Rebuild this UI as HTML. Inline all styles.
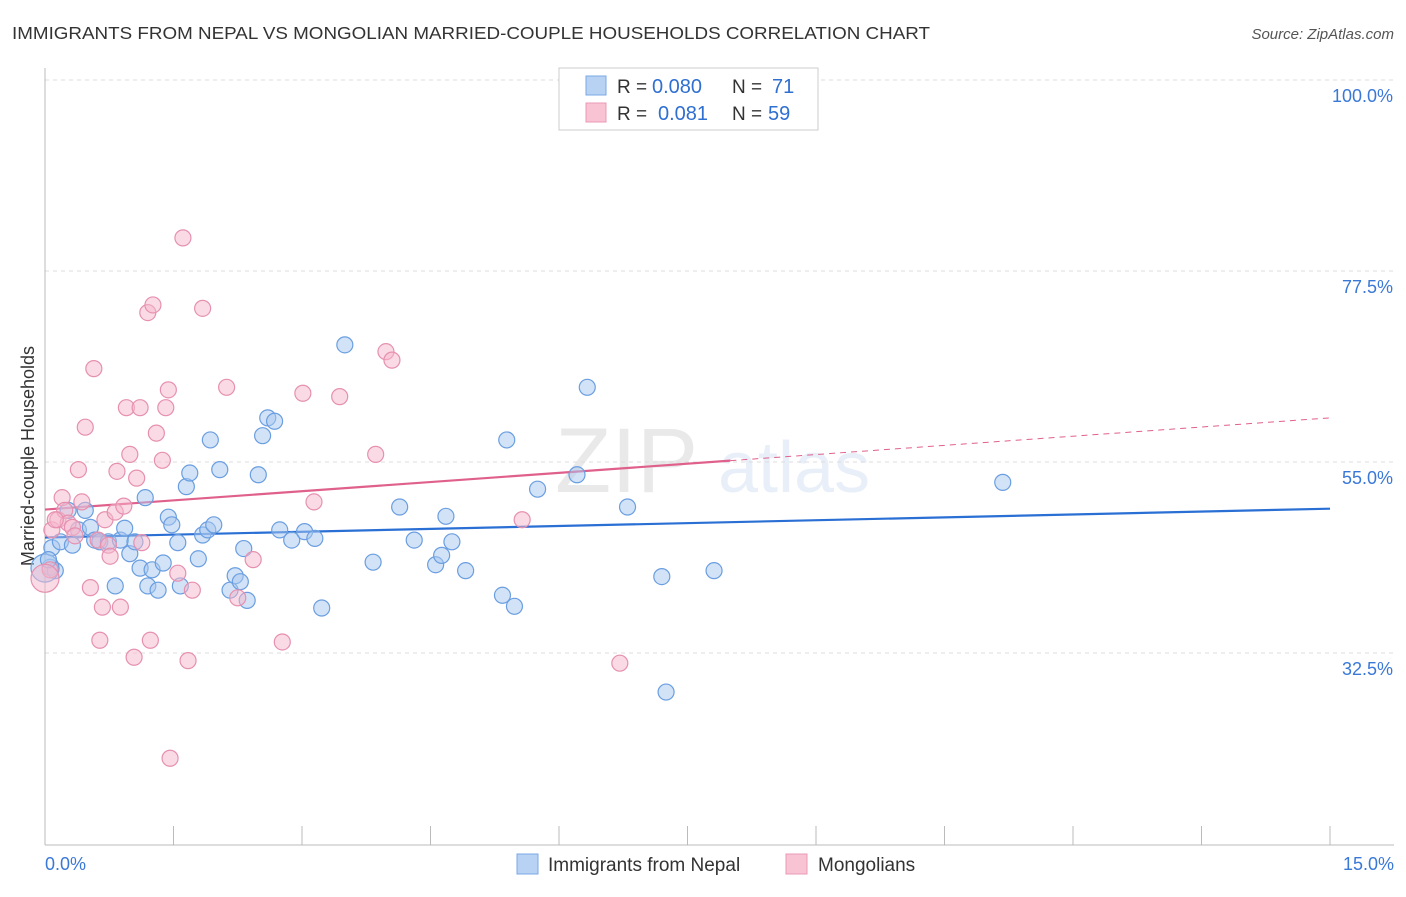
<!DOCTYPE html>
<html><head><meta charset="utf-8">
<style>
body{margin:0;background:#fff;font-family:"Liberation Sans",sans-serif;}
svg text{font-family:"Liberation Sans",sans-serif;}
</style></head>
<body>
<svg id="chart" width="1406" height="892" xmlns="http://www.w3.org/2000/svg">
<text x="12" y="39" font-size="17.5" fill="#333" textLength="918" lengthAdjust="spacingAndGlyphs">IMMIGRANTS FROM NEPAL VS MONGOLIAN MARRIED-COUPLE HOUSEHOLDS CORRELATION CHART</text>
<text x="1394" y="39" font-size="15" fill="#555" text-anchor="end" font-style="italic">Source: ZipAtlas.com</text>
<text transform="translate(34,456) rotate(-90)" font-size="18" fill="#333" text-anchor="middle">Married-couple Households</text>
<g opacity="0.12">
<text x="555" y="492" font-size="92" font-family="Liberation Serif" fill="#555">ZIP</text>
<text x="718" y="492" font-size="72" fill="#4a7fd0">atlas</text>
</g>
<g id="grid"></g>
<g id="ticks"></g>
<g id="lines"></g>
<g id="pts"></g>
<g>
<rect x="559" y="68" width="259" height="62" fill="#fff" stroke="#ccc"/>
<rect x="586" y="76" width="20" height="19" fill="#b8d2f4" stroke="#7aa8e4"/>
<rect x="586" y="103" width="20" height="19" fill="#f8c4d4" stroke="#eb98b4"/>
<text x="617" y="93" font-size="19" fill="#333">R =</text>
<text x="652" y="93" font-size="20" fill="#2f6fd0">0.080</text>
<text x="732" y="93" font-size="19" fill="#333">N =</text>
<text x="772" y="93" font-size="20" fill="#2f6fd0">71</text>
<text x="617" y="120" font-size="19" fill="#333">R =</text>
<text x="658" y="120" font-size="20" fill="#2f6fd0">0.081</text>
<text x="732" y="120" font-size="19" fill="#333">N =</text>
<text x="768" y="120" font-size="20" fill="#2f6fd0">59</text>
</g>
<g>
<rect x="517" y="854" width="21" height="20" fill="#b8d2f4" stroke="#7aa8e4"/>
<text x="548" y="871" font-size="19" fill="#333">Immigrants from Nepal</text>
<rect x="786" y="854" width="21" height="20" fill="#f8c4d4" stroke="#eb98b4"/>
<text x="818" y="871" font-size="19" fill="#333">Mongolians</text>
</g>
</svg>
<script>
const xTicks=[0,1.5,3,4.5,6,7.5,9,10.5,12,13.5,15];
const yTicks=[32.5,55,77.5,100];
const yTickLabels=["32.5%","55.0%","77.5%","100.0%"];
const nepalX=[0.06,0.12,0.08,0.18,0.27,0.32,0.39,0.47,0.53,0.58,0.64,0.74,0.82,0.88,0.93,0.99,1.05,1.11,1.17,1.20,1.25,1.32,1.38,1.44,1.48,1.55,1.58,1.65,1.69,1.79,1.84,1.90,1.93,1.97,2.04,2.16,2.22,2.28,2.32,2.36,2.49,2.54,2.60,2.68,2.74,2.88,3.03,3.15,3.23,3.50,3.83,4.14,4.31,4.56,4.63,4.68,4.75,4.91,5.34,5.39,5.48,5.75,6.21,6.33,6.80,7.20,7.25,7.81,11.18,0.0,0.04];
const nepalY=[42.6,42.2,44.9,45.6,49.3,45.2,47.0,49.3,47.3,45.8,45.6,45.6,40.4,45.8,47.2,44.2,45.6,42.5,50.8,40.4,42.3,39.9,43.1,48.5,47.6,45.5,40.4,52.1,53.7,43.6,46.4,47.0,57.6,47.6,54.1,39.9,41.6,40.9,44.8,38.7,53.5,58.1,60.2,59.8,47.0,45.8,46.8,46.0,37.8,68.8,43.2,49.7,45.8,42.9,44.0,48.6,45.6,42.2,39.3,57.6,38.0,51.8,53.5,63.8,49.7,41.5,27.9,42.2,52.6,42.5,43.5];
const mongX=[0.06,0.08,0.15,0.20,0.23,0.27,0.32,0.35,0.39,0.43,0.47,0.53,0.57,0.62,0.64,0.67,0.70,0.74,0.76,0.82,0.84,0.88,0.92,0.95,0.99,1.04,1.07,1.11,1.13,1.20,1.23,1.26,1.30,1.37,1.41,1.44,1.46,1.55,1.61,1.67,1.72,1.84,2.12,2.25,2.43,2.77,3.01,3.14,3.44,3.86,3.98,4.05,5.57,6.71,0.0,0.12];
const mongY=[42.3,47.0,48.2,50.8,49.3,47.8,47.3,46.3,54.1,50.3,59.1,40.2,66.0,45.8,34.0,37.9,48.2,45.2,43.9,49.1,53.9,37.9,49.8,61.4,55.9,32.0,53.1,61.4,45.5,72.6,34.0,73.5,58.4,55.2,61.4,63.5,20.1,41.9,81.4,31.6,39.9,73.1,63.8,39.0,43.5,33.8,63.1,50.3,62.7,55.9,68.0,67.0,48.2,31.3,41.3,48.2];
const nepalFit=[46.1,49.5];
const mongFit=[49.4,60.2];
const mongSolidEnd=8;

const X=v=>45+v/15*1285;
const Y=v=>80+(100-v)/22.5*191;
const NS="http://www.w3.org/2000/svg";
function mk(p,t,a){const e=document.createElementNS(NS,t);for(const k in a)e.setAttribute(k,a[k]);p.appendChild(e);return e;}
const grid=document.getElementById('grid'),ticks=document.getElementById('ticks'),lines=document.getElementById('lines'),pts=document.getElementById('pts');
yTicks.forEach((v,i)=>{
 const l=mk(grid,'line',{x1:45,x2:1394,y1:Y(v),y2:Y(v),stroke:'#ddd','stroke-dasharray':'4,4'});
 
 
 const t=mk(grid,'text',{x:1393,y:Y(v)+22,'font-size':18,fill:'#3a78d8','text-anchor':'end'});
 t.textContent=yTickLabels[i];
 
 
});
const ax=mk(ticks,'line',{x1:45,x2:1394,y1:845,y2:845,stroke:'#bbb'});


const ay=mk(ticks,'line',{x1:45,x2:45,y1:68,y2:845,stroke:'#bbb'});


xTicks.forEach(v=>{
 const l=mk(ticks,'line',{x1:X(v),x2:X(v),y1:826,y2:845,stroke:'#bbb'});
 
 
});
const t0=mk(ticks,'text',{x:45,y:870,'font-size':18,fill:'#3a78d8'});t0.textContent='0.0%';


const t1=mk(ticks,'text',{x:1394,y:870,'font-size':18,fill:'#3a78d8','text-anchor':'end'});t1.textContent='15.0%';


function dots(xs,ys,fill,stroke,name){xs.forEach((x,i)=>{
 const big=(x===0);
 const c=mk(pts,'circle',{cx:X(x),cy:Y(ys[i]),r:big?14:8,fill:fill,'fill-opacity':0.5,stroke:stroke,'stroke-width':1.2});
 
 
});}
dots(nepalX,nepalY,'#a8c8f0','#6a9ee0','nepal-point');
dots(mongX,mongY,'#f5b8cc','#e690b0','mongolian-point');
const fy=(f,x)=>f[0]+(f[1]-f[0])*x/15;
const bl=mk(lines,'line',{x1:X(0),y1:Y(fy(nepalFit,0)),x2:X(15),y2:Y(fy(nepalFit,15)),stroke:'#2a6fd4','stroke-width':2.2});


const pl=mk(lines,'line',{x1:X(0),y1:Y(fy(mongFit,0)),x2:X(mongSolidEnd),y2:Y(fy(mongFit,mongSolidEnd)),stroke:'#e0608c','stroke-width':2.2});


const pd=mk(lines,'line',{x1:X(mongSolidEnd),y1:Y(fy(mongFit,mongSolidEnd)),x2:X(15),y2:Y(fy(mongFit,15)),stroke:'#e0608c','stroke-width':1,'stroke-dasharray':'6,5'});


</script>
</body></html>
